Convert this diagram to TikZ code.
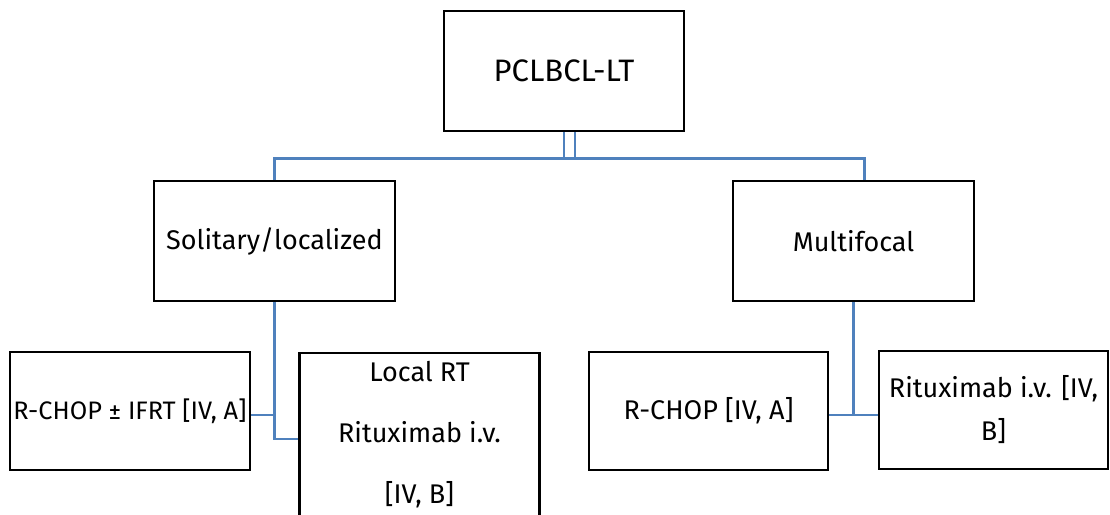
\documentclass[tikz,border=0pt]{standalone}
\usepackage{fontspec}
\setmainfont{Fira Sans}
\usetikzlibrary{calc}
\definecolor{connblue}{HTML}{4F81BD}
\tikzset{
  box/.style={draw=black, line width=2.6pt, fill=white, inner sep=1pt, align=center, font=\fontsize{27}{32}\selectfont},
  conn/.style={draw=connblue, line width=2.4pt},
}
\begin{document}
\begin{tikzpicture}[x=1pt, y=-1pt]
  \useasboundingbox (0,0) rectangle (1110,514);
  \node[box, minimum width=240pt, minimum height=120pt, font=\fontsize{31}{36}\selectfont] (top) at (564,71) {PCLBCL-LT};
  \node[box, minimum width=241pt, minimum height=120pt] (sol) at (274.5,241) {Solitary/localized};
  \node[box, minimum width=241pt, minimum height=120pt] (multi) at (853.5,241) {Multifocal};
  \node[box, minimum width=240pt, minimum height=118pt, inner sep=0pt, font=\fontsize{25.3}{30}\selectfont] (rchopa) at (130,411) {R-CHOP ± IFRT [IV, A]};
  \node[box, minimum width=240pt, minimum height=164pt, font=\fontsize{27}{61}\selectfont] (local) at (419.5,435) {Local RT\\Rituximab i.v.\\{[IV, B]}};
  \node[box, minimum width=239pt, minimum height=118pt] (rchopb) at (708.5,411) {R-CHOP [IV, A]};
  \node[box, minimum width=229pt, minimum height=118pt, font=\fontsize{27}{43}\selectfont] (ritux) at (993.5,410) {Rituximab i.v. [IV,\\B]};

  % elbow connectors from each box to the boxes below it
  \draw[conn] ([xshift=11pt]top.south) -- ++(0,26) -| (sol.north);
  \draw[conn] (top.south) -- ++(0,26) -| ([xshift=11pt]multi.north);
  \draw[conn] (sol.south) |- ([yshift=-4pt]rchopa.east);
  \draw[conn] (sol.south) |- ([yshift=-4pt]local.west);
  \draw[conn] (multi.south) |- ([yshift=-4pt]rchopb.east);
  \draw[conn] (multi.south) |- ([yshift=-5pt]ritux.west);
\end{tikzpicture}
\end{document}
